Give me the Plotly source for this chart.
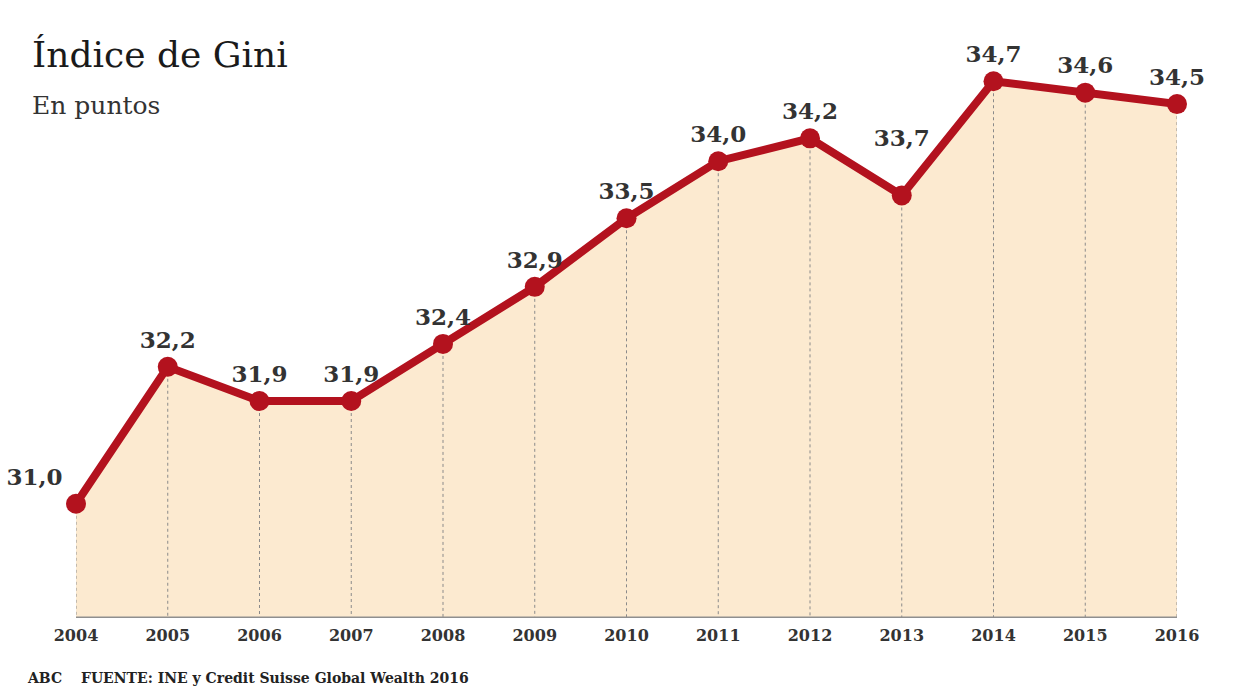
import plotly.graph_objects as go

years = [2004, 2005, 2006, 2007, 2008, 2009, 2010, 2011, 2012, 2013, 2014, 2015, 2016]
gini = [31.0, 32.2, 31.9, 31.9, 32.4, 32.9, 33.5, 34.0, 34.2, 33.7, 34.7, 34.6, 34.5]
tick_labels = [str(y) for y in years]
title = "Índice de Gini"
subtitle = "En puntos"
source = "ABC\u2003 FUENTE: INE y Credit Suisse Global Wealth 2016"

Y0 = 30.0
RED = "#B3121E"
FILL = "#FCEAD0"

labels = [f"<b>{v:.1f}</b>".replace(".", ",") for v in gini]
# lift the 2013 label clear of the rising line
labels[years.index(2013)] += "<br> "
positions = ["top left"] + ["top center"] * (len(gini) - 1)

fig = go.Figure()

fig.add_trace(go.Scatter(x=years, y=gini, mode="none", fill="tozeroy",
                         fillcolor=FILL, hoverinfo="skip", showlegend=False))

dx, dy = [], []
for x, v in zip(years, gini):
    dx += [x, x, None]
    dy += [v, Y0, None]
fig.add_trace(go.Scatter(x=dx, y=dy, mode="lines",
                         line=dict(color="#8a8a8a", width=1, dash="dot"),
                         hoverinfo="skip", showlegend=False))

fig.add_trace(go.Scatter(x=years, y=gini, mode="lines+markers+text",
                         line=dict(color=RED, width=8),
                         marker=dict(color=RED, size=20),
                         text=labels, textposition=positions,
                         textfont=dict(family="DejaVu Serif", size=23, color="#333333"),
                         cliponaxis=False, showlegend=False))

fig.update_layout(
    width=1240, height=698,
    margin=dict(l=76, r=63, t=47, b=80),
    paper_bgcolor="white", plot_bgcolor="white",
    font=dict(family="DejaVu Serif", color="#222222"),
    xaxis=dict(range=[2004, 2016], tickmode="array", tickvals=years, ticktext=tick_labels,
               showgrid=False, zeroline=False, showline=False, ticks="",
               tickfont=dict(family="DejaVu Serif", size=16, color="#333333", weight="bold"),
               ticklabelstandoff=6),
    yaxis=dict(range=[Y0, 35], showgrid=False, zeroline=False, showline=False,
               showticklabels=False, ticks=""),
    shapes=[dict(type="line", xref="x", yref="y", x0=years[0], x1=years[-1], y0=Y0, y1=Y0,
                 line=dict(color="#8f8f8f", width=3))],
    annotations=[
        dict(text=title, xref="paper", yref="paper", x=-0.042, y=0.986, xanchor="left",
             yanchor="middle", showarrow=False,
             font=dict(family="DejaVu Serif", size=36, color="#1a1a1a")),
        dict(text=subtitle, xref="paper", yref="paper", x=-0.042, y=0.898, xanchor="left",
             yanchor="middle", showarrow=False,
             font=dict(family="DejaVu Serif", size=25, color="#333333")),
        dict(text=source, xref="paper", yref="paper", x=-0.046, y=-0.105, xanchor="left",
             yanchor="middle", showarrow=False,
             font=dict(family="DejaVu Serif", size=14, color="#222222", weight="bold")),
    ],
)

fig.write_html("out.html", config={"displayModeBar": False},
               post_script="document.body.style.margin='0';document.body.style.padding='0';")
